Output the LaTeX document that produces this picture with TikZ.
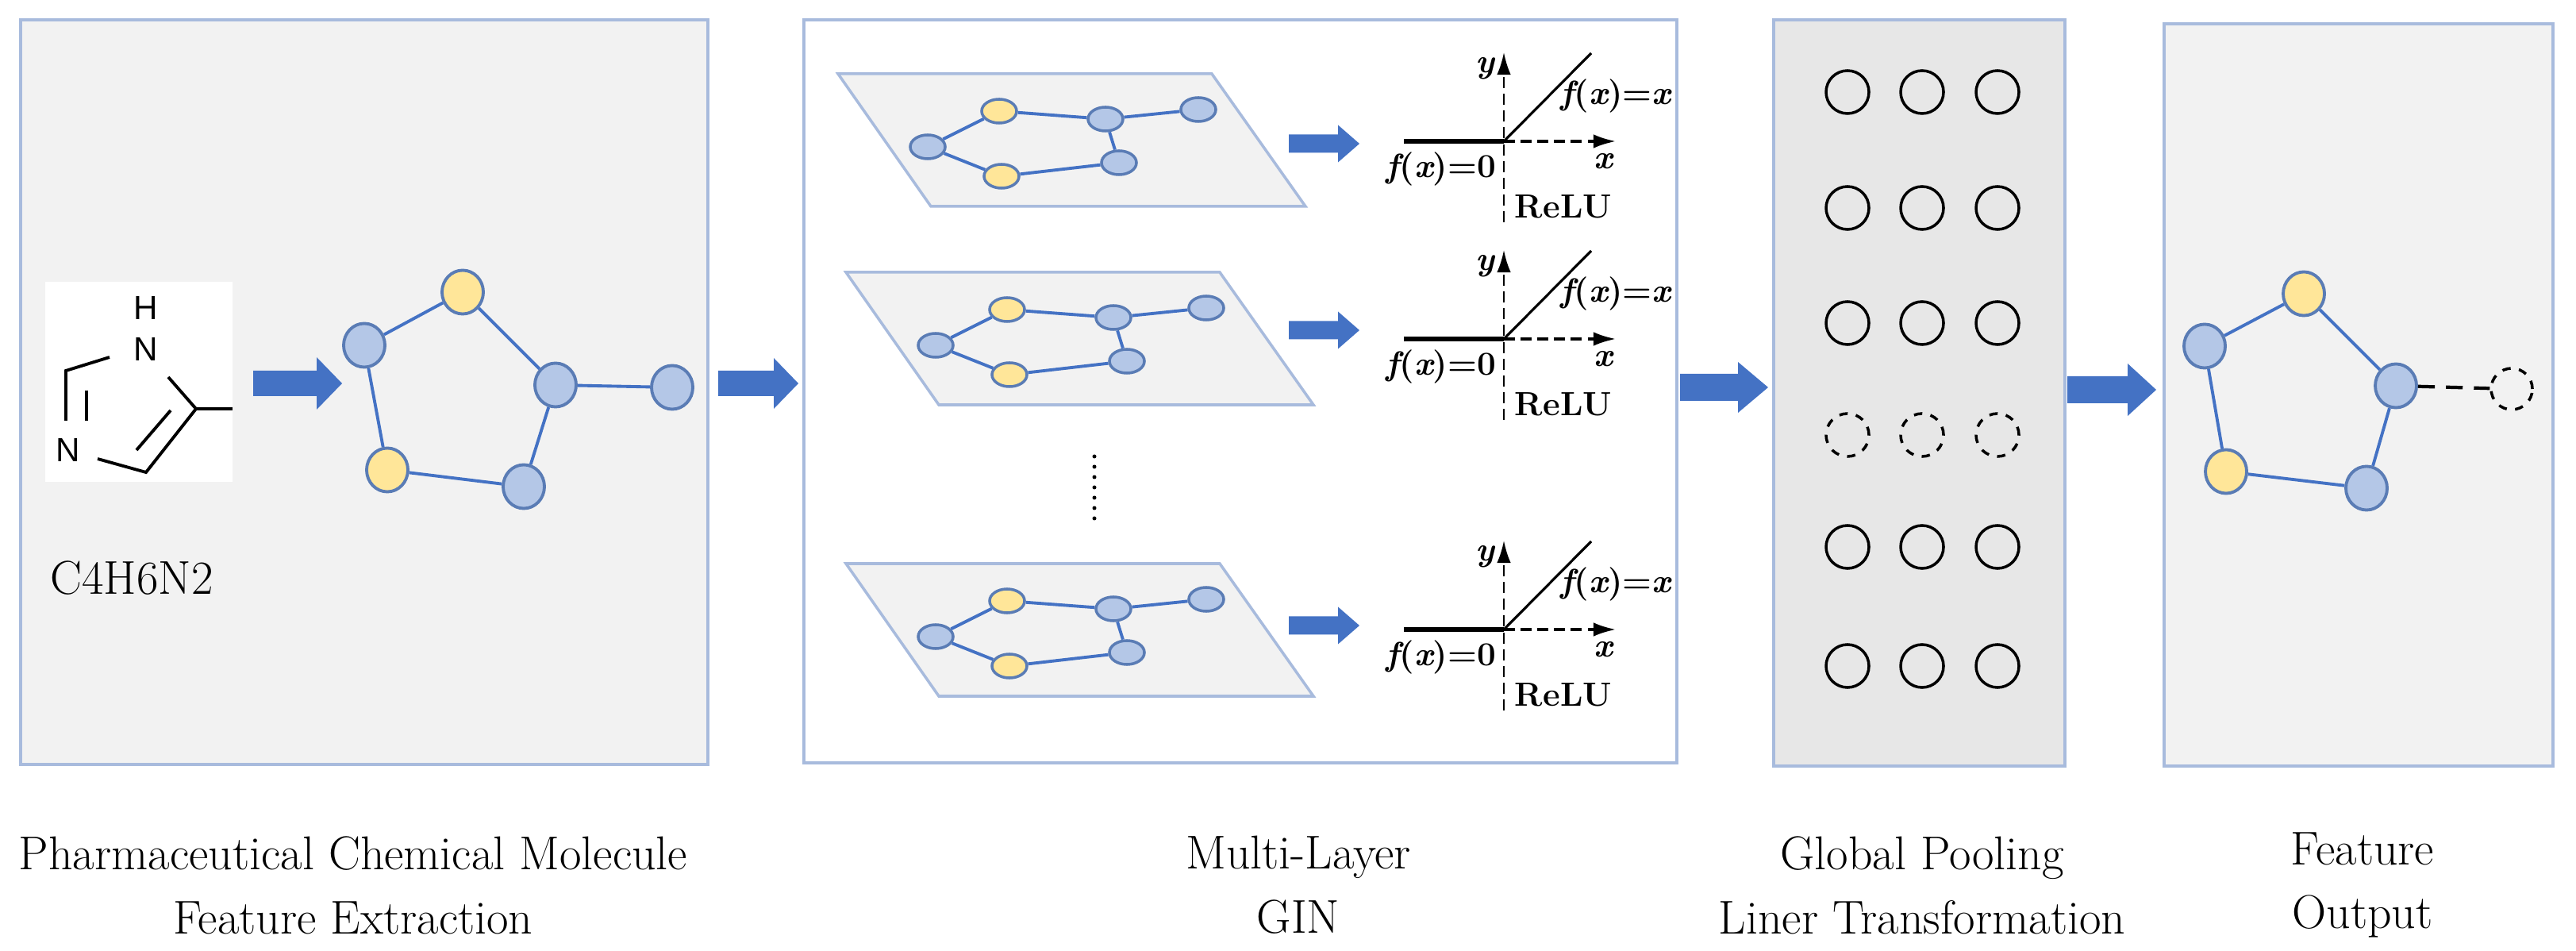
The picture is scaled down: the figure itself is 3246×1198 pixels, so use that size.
\documentclass[tikz,border=0pt]{standalone}
\usepackage{fontspec}
\newfontfamily\molfont{Liberation Sans}
\usetikzlibrary{shapes.geometric,arrows.meta}
\definecolor{boxline}{HTML}{A8BBDD}
\definecolor{edgeblue}{HTML}{4472C4}
\definecolor{nodeblue}{HTML}{B4C7E7}
\definecolor{nodeline}{HTML}{5A7CB5}
\definecolor{nodeyel}{HTML}{FFE699}
\definecolor{arrblue}{HTML}{4472C4}
\newcommand\bluearrow[6]{% x1, xhead, x2, yc, shaft half, head half
  \fill[arrblue] (#1,#4-#5) -- (#2,#4-#5) -- (#2,#4-#6) -- (#3,#4) -- (#2,#4+#6) -- (#2,#4+#5) -- (#1,#4+#5) -- cycle;}
\tikzset{
  box/.style={draw=boxline,line width=1.2pt},
  bn/.style={ellipse,draw=nodeline,fill=nodeblue,line width=1.1pt,inner sep=0pt,minimum width=0.52cm,minimum height=0.55cm},
  yn/.style={bn,fill=nodeyel},
  sbn/.style={bn,minimum width=0.44cm,minimum height=0.3cm,line width=1pt},
  syn/.style={sbn,fill=nodeyel},
  ge/.style={draw=edgeblue,line width=1.1pt},
  pc/.style={circle,draw=black,line width=1pt,inner sep=0pt,minimum size=0.54cm},
  lab/.style={font=\fontsize{17}{23}\selectfont,align=center},
  rl/.style={font=\fontsize{12}{14}\selectfont\bfseries,inner sep=0pt},
}
\begin{document}
\begin{tikzpicture}[x=0.01cm,y=-0.01cm]
\useasboundingbox (0,0) rectangle (3246,1198);
% boxes
\draw[box,fill=black!5] (26,25) rectangle (892,963);
\draw[box,fill=white] (1013,25) rectangle (2113,961);
\draw[box,fill=black!9.5] (2235,25) rectangle (2602,965);
\draw[box,fill=black!5] (2727,30) rectangle (3217,965);
% molecule
\fill[white] (57,355) rectangle (293,607);
\node[font=\molfont\fontsize{12}{14}\selectfont,inner sep=0pt] (mh) at (184,388) {H};
\node[font=\molfont\fontsize{12}{14}\selectfont,inner sep=0pt] (mn1) at (184,440) {N};
\node[font=\molfont\fontsize{12}{14}\selectfont,inner sep=0pt] (mn2) at (86,567) {N};
\draw[line width=1.1pt] (138,450) -- (83,467) -- (83,530);
\draw[line width=1.1pt] (109,492) -- (109,530);
\draw[line width=1.1pt] (123,578) -- (184,595) -- (247,515) -- (212,475);
\draw[line width=1.1pt] (172,567) -- (215,517);
\draw[line width=1.1pt] (247,515) -- (293,515);
\node[font=\fontsize{17}{20}\selectfont] (formula) at (166,728) {C4H6N2};
\bluearrow{319}{399}{431}{483}{16}{33}
% main graph
\node[bn] (a) at (459,435) {};
\node[yn] (b) at (583,368) {};
\node[bn] (c) at (700,485) {};
\node[bn] (d) at (847,488) {};
\node[bn] (e) at (660,613) {};
\node[yn] (f) at (488,592) {};
\draw[ge] (a)--(b) (b)--(c) (c)--(d) (c)--(e) (e)--(f) (f)--(a);
\bluearrow{905}{975}{1006}{483}{16}{32}
% GIN planes
\foreach \k/\dx/\dy in {1/0/0,2/10/250,3/10/617}{
\begin{scope}[shift={(\dx,\dy)}]
\draw[draw=boxline,fill=black!5,line width=1pt] (1056,93) -- (1527,93) -- (1645,260) -- (1173,260) -- cycle;
\node[syn] (p\k a) at (1259,140) {};
\node[sbn] (p\k b) at (1393,150) {};
\node[sbn] (p\k c) at (1510,138) {};
\node[sbn] (p\k d) at (1169,185) {};
\node[syn] (p\k e) at (1262,222) {};
\node[sbn] (p\k f) at (1410,205) {};
\draw[ge] (p\k d)--(p\k a) (p\k a)--(p\k b) (p\k b)--(p\k c) (p\k b)--(p\k f) (p\k f)--(p\k e) (p\k e)--(p\k d);
\end{scope}}
\bluearrow{1624}{1686}{1713}{181}{11.5}{23.5}
\bluearrow{1624}{1686}{1713}{416}{11.5}{23.5}
\bluearrow{1624}{1686}{1713}{788}{11.5}{23.5}
\foreach \i in {0,...,6}{\fill (1379,575+13*\i) circle (2.5);}
% ReLU plots
\foreach \dy in {0,249,615}{
\begin{scope}[shift={(0,\dy)}]
\coordinate (o) at (1895,178);
\coordinate (ytop) at (1895,66);
\coordinate (ybot) at (1895,280);
\coordinate (xl) at (1769,178);
\coordinate (xr) at (2036,178);
\coordinate (dg) at (2005,67);
\draw[line width=0.8pt,dash pattern=on 4pt off 2pt,-{Latex[length=8pt,width=5pt]}] (ybot) -- (ytop);
\draw[line width=1.6pt] (xl) -- (o);
\draw[line width=0.9pt,dash pattern=on 4pt off 2pt,-{Latex[length=8pt,width=5pt]}] (o) -- (xr);
\draw[line width=0.9pt] (o) -- (dg);
\node[rl] at (1871,86) {\itshape y};
\node[rl] at (2036,121) {\itshape f\upshape(\itshape x\upshape)=\itshape x};
\node[rl] at (1816,213) {\itshape f\upshape(\itshape x\upshape)=0};
\node[rl] at (2020,203) {\itshape x};
\node[rl] at (1970,260) {ReLU};
\end{scope}}
\bluearrow{2117}{2190}{2228}{488}{17}{32}
% pooling circles
\foreach \r/\yy in {1/116,2/262,3/407,5/689,6/839}{
  \foreach \c/\xx in {1/2328,2/2422,3/2517}{\node[pc] (q\r\c) at (\xx,\yy) {};}}
\foreach \c/\xx in {1/2328,2/2422,3/2517}{\node[pc,dashed] (q4\c) at (\xx,548) {};}
\bluearrow{2605}{2681}{2717}{491}{17}{33}
% output graph
\node[bn] (oa) at (2778,436) {};
\node[yn] (ob) at (2903,370) {};
\node[bn] (oc) at (3019,486) {};
\node[bn] (od) at (2982,615) {};
\node[yn] (oe) at (2805,594) {};
\node[pc,dashed,minimum size=0.52cm] (og) at (3165,490) {};
\draw[ge] (oa)--(ob) (ob)--(oc) (oc)--(od) (od)--(oe) (oe)--(oa);
\draw[line width=1.2pt,dash pattern=on 6pt off 4pt] (oc) -- (og);
% labels
\node[lab] at (445,1115) {Pharmaceutical Chemical Molecule\\Feature Extraction};
\node[lab] at (1636,1115) {Multi-Layer\\GIN};
\node[lab] at (2422,1115) {Global Pooling\\Liner Transformation};
\node[lab] at (2977,1115) {Feature\\Output};
\end{tikzpicture}
\end{document}
